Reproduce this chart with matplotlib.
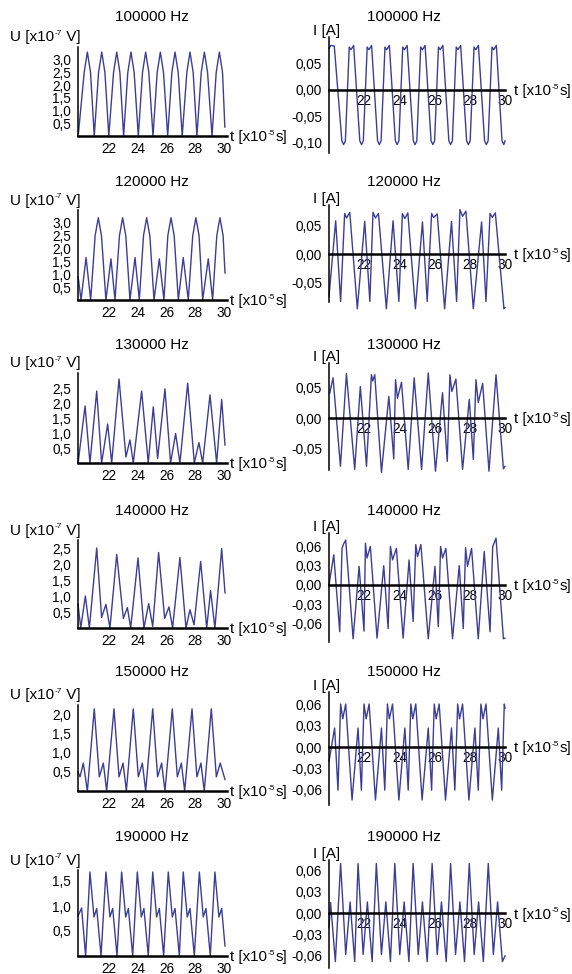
import matplotlib.pyplot as plt
from matplotlib.ticker import FuncFormatter
from matplotlib.transforms import IdentityTransform

plt.rcParams['font.family'] = ['Liberation Sans', 'DejaVu Sans']

# ---- data (t in 1e-5 s) ----
freq_labels = ['100000 Hz', '120000 Hz', '130000 Hz', '140000 Hz', '150000 Hz', '190000 Hz']

# U [x1e-7 V]
t_u100 = [19.88,
          20.28, 20.5, 20.72, 20.98, 21.28, 21.5, 21.72, 21.99, 22.32, 22.54, 22.76, 23.02,
          23.31, 23.53, 23.75, 24.04, 24.33, 24.55, 24.77, 25.06, 25.35, 25.57, 25.79, 26.08,
          26.37, 26.59, 26.81, 27.09, 27.41, 27.63, 27.85, 28.11, 28.41, 28.63, 28.85, 29.16,
          29.45, 29.67, 29.89, 30.05]
u100 = [0.1,
        2.5, 3.3, 2.5, 0.0, 2.5, 3.3, 2.5, 0.0, 2.5, 3.3, 2.5, 0.0,
        2.5, 3.3, 2.5, 0.0, 2.5, 3.3, 2.5, 0.0, 2.5, 3.3, 2.5, 0.0,
        2.5, 3.3, 2.5, 0.0, 2.5, 3.3, 2.5, 0.0, 2.5, 3.3, 2.5, 0.0,
        2.5, 3.3, 2.5, 0.35]

t_u120 = [19.86, 20.06, 20.41, 20.73, 21.04, 21.26, 21.48, 21.79, 22.14, 22.42, 22.73, 22.95, 23.17, 23.46,
          23.81, 24.11, 24.40, 24.62, 24.84, 25.13, 25.50, 25.82, 26.09, 26.31, 26.53, 26.82,
          27.16, 27.51, 27.82, 28.04, 28.26, 28.51, 28.90, 29.20, 29.49, 29.71, 29.93, 30.06]
u120 = [0.9, 0.0, 1.65, 0.0, 2.5, 3.2, 2.5, 0.0, 1.6, 0.0, 2.5, 3.2, 2.5, 0.0,
        1.65, 0.0, 2.5, 3.2, 2.5, 0.0, 1.6, 0.0, 2.5, 3.2, 2.5, 0.0,
        1.65, 0.0, 2.5, 3.2, 2.5, 0.0, 1.6, 0.0, 2.5, 3.2, 2.5, 1.05]

t_u130 = [19.87, 20.34, 20.68, 21.15, 21.49, 21.91, 22.19, 22.70, 23.18, 23.46, 23.69, 24.27, 24.73, 25.08,
          25.38, 25.89, 26.28, 26.63, 26.93, 27.47, 27.93, 28.25, 28.51, 29.02, 29.48, 29.83, 30.06]
u130 = [0.05, 1.9, 0.0, 2.4, 0.0, 1.3, 0.0, 2.8, 0.2, 0.77, 0.0, 2.4, 0.0, 1.87,
        0.15, 2.47, 0.0, 0.98, 0.0, 2.66, 0.0, 0.68, 0.0, 2.27, 0.0, 2.12, 0.6]

t_u140 = [19.85, 20.04, 20.36, 20.64, 21.15, 21.49, 21.79, 22.07, 22.54, 23.0, 23.28, 23.51, 24.02, 24.43, 24.76,
          25.04, 25.45, 25.87, 26.17, 26.42, 26.93, 27.35, 27.63, 27.91, 28.37, 28.79, 29.06, 29.36, 29.83, 30.06]
u140 = [0.74, 0.0, 1.0, 0.0, 2.5, 0.33, 0.74, 0.0, 2.3, 0.3, 0.64, 0.0, 2.19, 0.0, 0.76,
        0.05, 2.36, 0.3, 0.66, 0.0, 2.2, 0.0, 0.57, 0.1, 2.08, 0.0, 1.17, 0.0, 2.48, 1.1]

t_u150 = [19.85, 19.99, 20.22, 20.5, 20.98, 21.33, 21.61, 21.84, 22.35, 22.70, 22.98, 23.21, 23.69, 24.04, 24.32, 24.55,
          25.04, 25.38, 25.66, 25.89, 26.40, 26.75, 27.03, 27.26, 27.77, 28.11, 28.39, 28.62, 29.11, 29.46, 29.73, 30.06]
u150 = [0.5, 0.37, 0.73, 0.0, 2.15, 0.37, 0.73, 0.0, 2.15, 0.37, 0.73, 0.0, 2.15, 0.37, 0.73, 0.0,
        2.15, 0.37, 0.73, 0.0, 2.15, 0.37, 0.73, 0.0, 2.15, 0.37, 0.73, 0.0, 2.15, 0.37, 0.73, 0.3]

t_u190 = [19.85, 20.10, 20.38, 20.68, 20.96, 21.15, 21.45, 21.79, 22.07, 22.26, 22.56, 22.88, 23.16, 23.35, 23.65,
          23.97, 24.25, 24.43, 24.73, 25.04, 25.31, 25.50, 25.80, 26.12, 26.40, 26.59, 26.89, 27.16, 27.44, 27.63,
          27.93, 28.28, 28.55, 28.74, 29.04, 29.36, 29.64, 29.83, 30.06]
u190 = [0.8, 0.96, 0.0, 1.68, 0.78, 0.95, 0.0, 1.68, 0.78, 0.95, 0.0, 1.68, 0.78, 0.95, 0.0,
        1.68, 0.78, 0.95, 0.0, 1.68, 0.78, 0.95, 0.0, 1.68, 0.78, 0.95, 0.0, 1.68, 0.78, 0.95,
        0.0, 1.68, 0.78, 0.95, 0.0, 1.68, 0.78, 0.95, 0.2]

# I [A]
t_i100 = [20.0, 20.1, 20.3,
          20.73, 20.83, 20.93, 21.15, 21.25, 21.40, 21.75, 21.85, 21.95, 22.17, 22.27, 22.42,
          22.76, 22.86, 22.96, 23.18, 23.28, 23.43, 23.77, 23.87, 23.97, 24.19, 24.29, 24.44,
          24.79, 24.89, 24.99, 25.21, 25.31, 25.46, 25.80, 25.90, 26.00, 26.22, 26.32, 26.47,
          26.81, 26.91, 27.01, 27.23, 27.33, 27.48, 27.82, 27.92, 28.02, 28.24, 28.34, 28.49,
          28.84, 28.94, 29.04, 29.26, 29.36, 29.51, 29.83, 29.93, 30.0]
i100 = [0.078, 0.084, 0.083,
        -0.097, -0.104, -0.097, 0.081, 0.076, 0.084, -0.097, -0.104, -0.097, 0.081, 0.076, 0.084,
        -0.097, -0.104, -0.097, 0.081, 0.076, 0.084, -0.097, -0.104, -0.097, 0.081, 0.076, 0.084,
        -0.097, -0.104, -0.097, 0.081, 0.076, 0.084, -0.097, -0.104, -0.097, 0.081, 0.076, 0.084,
        -0.097, -0.104, -0.097, 0.081, 0.076, 0.084, -0.097, -0.104, -0.097, 0.081, 0.076, 0.084,
        -0.097, -0.104, -0.097, 0.081, 0.076, 0.084, -0.097, -0.104, -0.097]

t_i120 = [20.0, 20.38, 20.66, 20.89, 21.0, 21.18, 21.61, 22.03, 22.32, 22.50, 22.64, 22.81, 23.26,
          23.64, 23.97, 24.17, 24.31, 24.48, 24.91, 25.31, 25.58, 25.83, 25.94, 26.15, 26.57,
          26.96, 27.25, 27.44, 27.59, 27.78, 28.2, 28.67, 28.92, 29.15, 29.28, 29.45, 29.94, 30.0]
i120 = [-0.075, 0.059, -0.084, 0.072, 0.064, 0.074, -0.097, 0.058, -0.084, 0.074, 0.064, 0.072, -0.097,
        0.059, -0.084, 0.072, 0.063, 0.073, -0.097, 0.057, -0.084, 0.072, 0.065, 0.071, -0.097,
        0.058, -0.084, 0.079, 0.067, 0.076, -0.097, 0.057, -0.084, 0.072, 0.065, 0.073, -0.097, -0.095]

t_i130 = [20.04, 20.23, 20.65, 20.99, 21.46, 21.78, 22.13, 22.41, 22.49, 22.60, 22.98, 23.40, 23.68, 23.78,
          23.89, 24.12, 24.50, 24.84, 25.26, 25.64, 26.05, 26.45, 26.72, 26.87, 26.98, 27.21, 27.59, 27.97,
          28.20, 28.35, 28.48, 28.73, 29.09, 29.49, 29.91, 30.0]
i130 = [0.04, 0.065, -0.078, 0.072, -0.083, 0.051, -0.078, 0.07, 0.06, 0.07, -0.088, 0.035, -0.066, 0.062,
        0.032, 0.058, -0.083, 0.065, -0.083, 0.073, -0.086, 0.041, -0.07, 0.07, 0.043, 0.063, -0.083, 0.03,
        -0.067, 0.062, 0.025, 0.056, -0.086, 0.07, -0.082, -0.078]

t_i140 = [20.0, 20.27, 20.61, 20.74, 20.83, 20.95, 21.37, 21.71, 21.99, 22.07, 22.16, 22.35, 22.73,
          23.11, 23.36, 23.49, 23.61, 23.83, 24.21, 24.55, 24.78, 24.93, 25.03, 25.22, 25.64,
          26.02, 26.21, 26.34, 26.45, 26.64, 27.02, 27.40, 27.63, 27.76, 27.87, 28.10, 28.48,
          28.82, 29.15, 29.30, 29.38, 29.49, 29.91, 30.0]
i140 = [0.0, 0.047, -0.073, 0.057, 0.064, 0.07, -0.084, 0.029, -0.072, 0.065, 0.042, 0.06, -0.083,
        0.03, -0.068, 0.06, 0.039, 0.057, -0.083, 0.039, -0.057, 0.063, 0.044, 0.063, -0.084,
        0.029, -0.065, 0.06, 0.042, 0.057, -0.084, 0.03, -0.068, 0.058, 0.029, 0.057, -0.084,
        0.052, -0.073, 0.06, 0.065, 0.073, -0.084, -0.083]

t_i150 = [20.0, 20.32, 20.51, 20.66, 20.78, 20.95, 21.31, 21.65, 21.84, 21.99, 22.11, 22.28, 22.64,
          22.98, 23.17, 23.32, 23.43, 23.61, 23.97, 24.31, 24.50, 24.65, 24.76, 24.93, 25.29,
          25.64, 25.83, 25.98, 26.09, 26.26, 26.62, 26.96, 27.15, 27.31, 27.42, 27.59, 27.95,
          28.29, 28.48, 28.63, 28.75, 28.92, 29.28, 29.62, 29.81, 29.96, 30.0]
i150 = [-0.02, 0.027, -0.061, 0.061, 0.04, 0.061, -0.075, 0.027, -0.061, 0.061, 0.04, 0.061, -0.075,
        0.027, -0.061, 0.061, 0.04, 0.061, -0.075, 0.027, -0.061, 0.061, 0.04, 0.061, -0.075,
        0.027, -0.061, 0.061, 0.04, 0.061, -0.075, 0.027, -0.061, 0.061, 0.04, 0.061, -0.075,
        0.027, -0.061, 0.061, 0.04, 0.061, -0.075, 0.027, -0.061, 0.061, 0.055]

t_i190 = [20.0, 20.09, 20.36, 20.66, 20.95, 21.20, 21.46, 21.65, 21.94, 22.18, 22.45, 22.69, 22.98, 23.23,
          23.49, 23.74, 24.02, 24.27, 24.54, 24.78, 25.07, 25.31, 25.58, 25.86, 26.15, 26.39, 26.66, 26.91,
          27.19, 27.44, 27.70, 27.97, 28.25, 28.50, 28.77, 29.05, 29.34, 29.58, 29.85, 30.0]
i190 = [-0.02, 0.015, -0.068, 0.07, -0.058, 0.016, -0.068, 0.07, -0.058, 0.016, -0.068, 0.07, -0.058, 0.016,
        -0.068, 0.07, -0.058, 0.016, -0.068, 0.07, -0.058, 0.016, -0.068, 0.07, -0.058, 0.016, -0.068, 0.07,
        -0.058, 0.016, -0.068, 0.07, -0.058, 0.016, -0.068, 0.07, -0.058, 0.016, -0.068, -0.06]

u_series = [(t_u100, u100), (t_u120, u120), (t_u130, u130), (t_u140, u140), (t_u150, u150), (t_u190, u190)]
i_series = [(t_i100, i100), (t_i120, i120), (t_i130, i130), (t_i140, i140), (t_i150, i150), (t_i190, i190)]

u_top = [3.5, 3.5, 3.0, 2.75, 2.25, 1.72]
u_ticks = [[0.5, 1.0, 1.5, 2.0, 2.5, 3.0], [0.5, 1.0, 1.5, 2.0, 2.5, 3.0], [0.5, 1.0, 1.5, 2.0, 2.5],
           [0.5, 1.0, 1.5, 2.0, 2.5], [0.5, 1.0, 1.5, 2.0], [0.5, 1.0, 1.5]]
i_lims = [(-0.12, 0.10), (-0.085, 0.087), (-0.084, 0.089), (-0.089, 0.081), (-0.082, 0.078), (-0.077, 0.075)]
i_ticks = [[-0.10, -0.05, 0.0, 0.05], [-0.05, 0.0, 0.05], [-0.05, 0.0, 0.05],
           [-0.06, -0.03, 0.0, 0.03, 0.06], [-0.06, -0.03, 0.0, 0.03, 0.06], [-0.06, -0.03, 0.0, 0.03, 0.06]]
t_ticks = [22, 24, 26, 28, 30]

# ---- layout (pixels from top-left) ----
W, H = 572, 974
left_top = [47, 210, 373, 540, 705, 870]
left_bot = [136, 300, 463, 628, 791, 956]
right_top = [37, 205, 363, 533, 692, 860]
right_bot = [153, 302, 470, 642, 805, 968]
title_y = [17, 182, 345, 511, 672, 837]

line_color = '#3d3d95'

fig = plt.figure(figsize=(W / 100, H / 100), dpi=100)
renderer = fig.canvas.get_renderer()
pix = IdentityTransform()


def add_ax(left, right, top, bottom):
    return fig.add_axes([left / W, 1 - bottom / H, (right - left) / W, (bottom - top) / H])


def put(x, y, s, **kw):
    fig.text(x / W, 1 - y / H, s, **kw)


def sup_text(x, y, pre, sup, post, size=11):
    # x, y in display pixels (origin bottom-left), y = vertical centre of the text
    em = size * 100 / 72
    base = y - 0.36 * em
    t1 = fig.text(x, base, pre, fontsize=size, va='baseline', transform=pix)
    x1 = t1.get_window_extent(renderer).x1
    t2 = fig.text(x1 + 0.5, base + 0.42 * em, sup, fontsize=size * 0.55, va='baseline', transform=pix)
    x2 = t2.get_window_extent(renderer).x1
    fig.text(x2 + 0.3, base, post, fontsize=size, va='baseline', transform=pix)


def comma(fmt):
    return FuncFormatter(lambda v, p: fmt.format(v).replace('.', ','))


for r in range(6):
    # voltage panel
    ax = add_ax(78, 227, left_top[r], left_bot[r])
    tu, u = u_series[r]
    ax.plot(tu, u, color=line_color, lw=1.0, clip_on=False)
    ax.set_xlim(19.85, 30.2)
    ax.set_ylim(0, u_top[r])
    for s in ['top', 'right']:
        ax.spines[s].set_visible(False)
    ax.spines['bottom'].set_linewidth(1.8)
    ax.spines['left'].set_linewidth(1.1)
    ax.set_xticks(t_ticks)
    ax.set_yticks(u_ticks[r])
    ax.yaxis.set_major_formatter(comma('{:.1f}'))
    ax.tick_params(axis='both', length=0, labelsize=9.8)
    ax.tick_params(axis='y', pad=5)
    ax.tick_params(axis='x', pad=4)
    ax.patch.set_visible(False)
    x0, y0 = ax.transData.transform((30.2, 0))
    sup_text(x0 + 3, y0, 't [x10', '-5', 's]', size=10.8)

    # current panel
    ax2 = add_ax(329, 505, right_top[r], right_bot[r])
    ti, cur = i_series[r]
    ax2.plot(ti, cur, color=line_color, lw=1.0, clip_on=False)
    ax2.set_xlim(20, 30)
    ax2.set_ylim(*i_lims[r])
    for s in ['top', 'right']:
        ax2.spines[s].set_visible(False)
    ax2.spines['bottom'].set_position(('data', 0))
    ax2.spines['bottom'].set_linewidth(1.8)
    ax2.spines['left'].set_linewidth(1.1)
    ax2.set_xticks(t_ticks)
    ax2.set_yticks(i_ticks[r])
    ax2.yaxis.set_major_formatter(comma('{:.2f}'))
    ax2.tick_params(axis='both', length=0, labelsize=9.8)
    ax2.tick_params(axis='y', pad=5)
    ax2.tick_params(axis='x', pad=3)
    ax2.patch.set_visible(False)
    x0, y0 = ax2.transData.transform((30, 0))
    sup_text(x0 + 9, y0, 't [x10', '-5', 's]', size=10.8)

    put(152, title_y[r], freq_labels[r], ha='center', va='center', fontsize=11)
    put(404, title_y[r], freq_labels[r], ha='center', va='center', fontsize=11)
    sup_text(10, H - (left_top[r] - 11), 'U [x10', '-7', ' V]', size=11)
    put(313, right_top[r] - 6, 'I [A]', ha='left', va='center', fontsize=11)

fig.savefig('out.png', dpi=100)
